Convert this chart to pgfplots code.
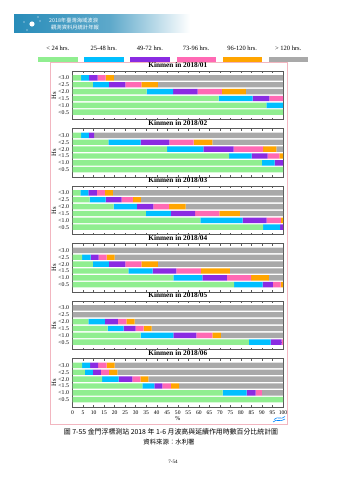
\documentclass[border=0pt]{standalone}
\usepackage{pgfplots}
\pgfplotsset{compat=1.18}
\usepackage{pgfplotstable}
\usepackage{fontspec}
\setmainfont{Liberation Serif}
\newfontfamily\cjk{Noto Sans CJK TC}
\definecolor{cg}{RGB}{144,238,144}
\definecolor{cc}{RGB}{0,191,255}
\definecolor{cp}{RGB}{138,43,226}
\definecolor{ck}{RGB}{255,105,180}
\definecolor{co}{RGB}{255,165,0}
\definecolor{cr}{RGB}{169,169,169}
\definecolor{pinkbox}{RGB}{242,182,192}
\definecolor{bnr}{RGB}{40,140,185}

\pgfplotstableread{
y g c p k o r
5 4.1 3.8 4.0 3.8 4.0 80.3
4 9.7 7.6 7.8 7.6 7.8 59.5
3 35.2 12.6 11.6 11.6 11.4 17.6
2 69.4 16.2 7.9 6.5 0 0
1 92.1 7.9 0 0 0 0
0 100 0 0 0 0 0
}\tA
\pgfplotstableread{
y g c p k o r
5 4.1 3.7 2.5 0 0 89.7
4 17.0 15.4 13.6 11.6 8.9 33.5
3 44.9 17.3 14.3 14.1 6.2 3.2
2 74.4 10.7 7.6 5.6 1.7 0
1 90.0 6.0 4.0 0 0 0
0 100 0 0 0 0 0
}\tB
\pgfplotstableread{
y g c p k o r
5 3.7 3.8 4.1 3.8 3.8 80.8
4 8.1 7.6 7.6 5.4 3.8 67.5
3 19.5 11.1 7.8 7.5 7.8 46.3
2 34.8 11.9 11.6 11.5 9.7 20.5
1 60.8 20.0 11.4 6.8 1.0 0
0 90.6 8.0 1.4 0 0 0
}\tC
\pgfplotstableread{
y g c p k o r
5 0 0 0 0 0 100
4 4.6 4.0 3.8 3.8 3.8 80.0
3 9.7 7.6 7.8 7.6 7.8 59.5
2 26.5 11.6 11.3 11.6 13.8 25.2
1 47.9 13.8 11.6 11.5 8.5 6.7
0 76.8 13.5 4.9 3.7 1.1 0
}\tD
\pgfplotstableread{
y g c p k o r
5 0 0 0 0 0 100
4 0 0 0 0 0 100
3 7.6 7.8 6.2 4.0 3.9 70.5
2 16.7 7.6 5.7 3.8 3.8 62.4
1 32.4 15.5 11.0 7.6 4.0 29.5
0 83.8 10.3 5.3 0.6 0 0
}\tE
\pgfplotstableread{
y g c p k o r
5 4.6 3.8 3.8 4.0 3.8 80.0
4 5.9 3.8 3.8 3.8 4.0 78.7
3 14.1 7.8 6.5 3.8 3.8 64.0
2 33.2 5.7 3.8 4.0 3.9 49.4
1 71.3 11.4 4.3 3.0 0 10.0
0 100 0 0 0 0 0
}\tF

\pgfplotsset{panel/.style={
  width=210.5pt, height=48.6pt, scale only axis,
  anchor=south west,
  xbar stacked, bar width=5.4pt,
  xmin=0, xmax=100, ymin=-1.1, ymax=6,
  xtick={0,5,...,100}, ytick={0,...,5},
  yticklabels={<0.5,<1.0,<1.5,<2.0,<2.5,<3.0},
  major tick length=2pt,
  axis line style={black!65, line width=0.4pt},
  tick style={black!65, line width=0.4pt},
  ylabel=Hs,
  ylabel style={at={(axis description cs:-0.088,0.5)}, anchor=center,
    font=\fontsize{6.6}{7}\selectfont},
  every axis title shift=0pt,
  title style={font=\bfseries\fontsize{7.3}{8}\selectfont,
    at={(axis description cs:0.5,1)}, anchor=base, inner sep=0pt, yshift=3.5pt},
  yticklabel style={font=\fontsize{5.8}{6}\selectfont},
  xticklabel style={font=\fontsize{5.6}{6}\selectfont},
  /pgf/number format/assume math mode=true,
}}
\newcommand{\bars}[1]{%
  \addplot[fill=cg, draw=none] table[x=g, y=y] {#1};
  \addplot[fill=cc, draw=none] table[x=c, y=y] {#1};
  \addplot[fill=cp, draw=none] table[x=p, y=y] {#1};
  \addplot[fill=ck, draw=none] table[x=k, y=y] {#1};
  \addplot[fill=co, draw=none] table[x=o, y=y] {#1};
  \addplot[fill=cr, draw=none] table[x=r, y=y] {#1};
}
\newcommand{\legimg}[2]{%
  \addlegendimage{legend image code/.code={%
    \fill[#1] (0pt,-4.4pt) rectangle (38.5pt,0pt);
    \node[overlay, font=\fontsize{6.5}{7}\selectfont, inner sep=0pt] at (19.25pt,8.3pt) {#2};}}
  \addlegendentry{\relax}
}

\begin{document}
\begin{tikzpicture}
\path[use as bounding box] (0pt,0pt) rectangle (339pt,480pt);
% header banner
\shade[left color=bnr, right color=bnr!75!white] (14pt,447pt) rectangle (110pt,465pt);
\shade[left color=bnr!75!white, right color=white] (110pt,447pt) rectangle (190pt,465pt);
\fill[white] (32pt,456pt) circle (2.6pt);
\fill[white] (24pt,458pt) circle (0.7pt);
\fill[white] (40pt,459pt) circle (0.7pt);
\fill[white] (27pt,450pt) circle (0.6pt);
\fill[white] (38pt,463pt) circle (0.6pt);
\node[white, anchor=west, inner sep=0pt, font=\cjk\fontsize{5.3}{6}\selectfont] at (49pt,459.3pt) {2018年臺灣海域波浪};
\node[white, anchor=west, inner sep=0pt, font=\cjk\fontsize{5.3}{6}\selectfont] at (51pt,452.3pt) {觀測資料月統計年報};
% pink frame
\draw[pinkbox, line width=0.8pt] (50pt,417.5pt) rectangle (287pt,56pt);
% small corner logo
\draw[cc!70!blue, line width=0.6pt] (273pt,58pt) .. controls (277pt,62pt) and (280pt,57pt) .. (285pt,61pt);
\draw[cc!70!blue, line width=0.6pt] (274pt,60.5pt) .. controls (278pt,64.5pt) and (281pt,59.5pt) .. (285pt,63.5pt);

\begin{axis}[panel, at={(72.5pt,360.3pt)}, title={Kinmen in 2018/01}, xticklabels={},
  legend columns=6,
  legend style={at={(axis description cs:-0.1625,1.307)}, anchor=north west,
    draw=none, fill=none, inner sep=0pt, outer sep=0pt,
    nodes={inner sep=0pt}, /tikz/column sep=3.1pt}]
\legimg{cg}{< 24 hrs.}
\legimg{cc}{25-48 hrs.}
\legimg{cp}{49-72 hrs.}
\legimg{ck}{73-96 hrs.}
\legimg{co}{96-120 hrs.}
\legimg{cr}{> 120 hrs.}
\bars{\tA}
\end{axis}
\begin{axis}[panel, at={(72.5pt,302.8pt)}, title={Kinmen in 2018/02}, xticklabels={}]
\bars{\tB}
\end{axis}
\begin{axis}[panel, at={(72.5pt,245.3pt)}, title={Kinmen in 2018/03}, xticklabels={}]
\bars{\tC}
\end{axis}
\begin{axis}[panel, at={(72.5pt,187.8pt)}, title={Kinmen in 2018/04}, xticklabels={}]
\bars{\tD}
\end{axis}
\begin{axis}[panel, at={(72.5pt,130.3pt)}, title={Kinmen in 2018/05}, xticklabels={}]
\bars{\tE}
\end{axis}
\begin{axis}[panel, at={(72.5pt,72.8pt)}, title={Kinmen in 2018/06},
  xlabel={\%}, xlabel style={at={(axis description cs:0.5,0)}, anchor=center, yshift=-11.3pt,
    font=\fontsize{6}{7}\selectfont}]
\bars{\tF}
\end{axis}

% caption
\node[font=\cjk\fontsize{6.9}{8}\selectfont] at (171pt,48pt) {圖 7-55 金門浮標測站 2018 年 1-6 月波高與延續作用時數百分比統計圖};
\node[font=\cjk\fontsize{6.4}{7}\selectfont] at (169pt,37.7pt) {資料來源：水利署};
\node[font=\fontsize{5}{6}\selectfont] at (173pt,18.3pt) {7-54};
\end{tikzpicture}
\end{document}
